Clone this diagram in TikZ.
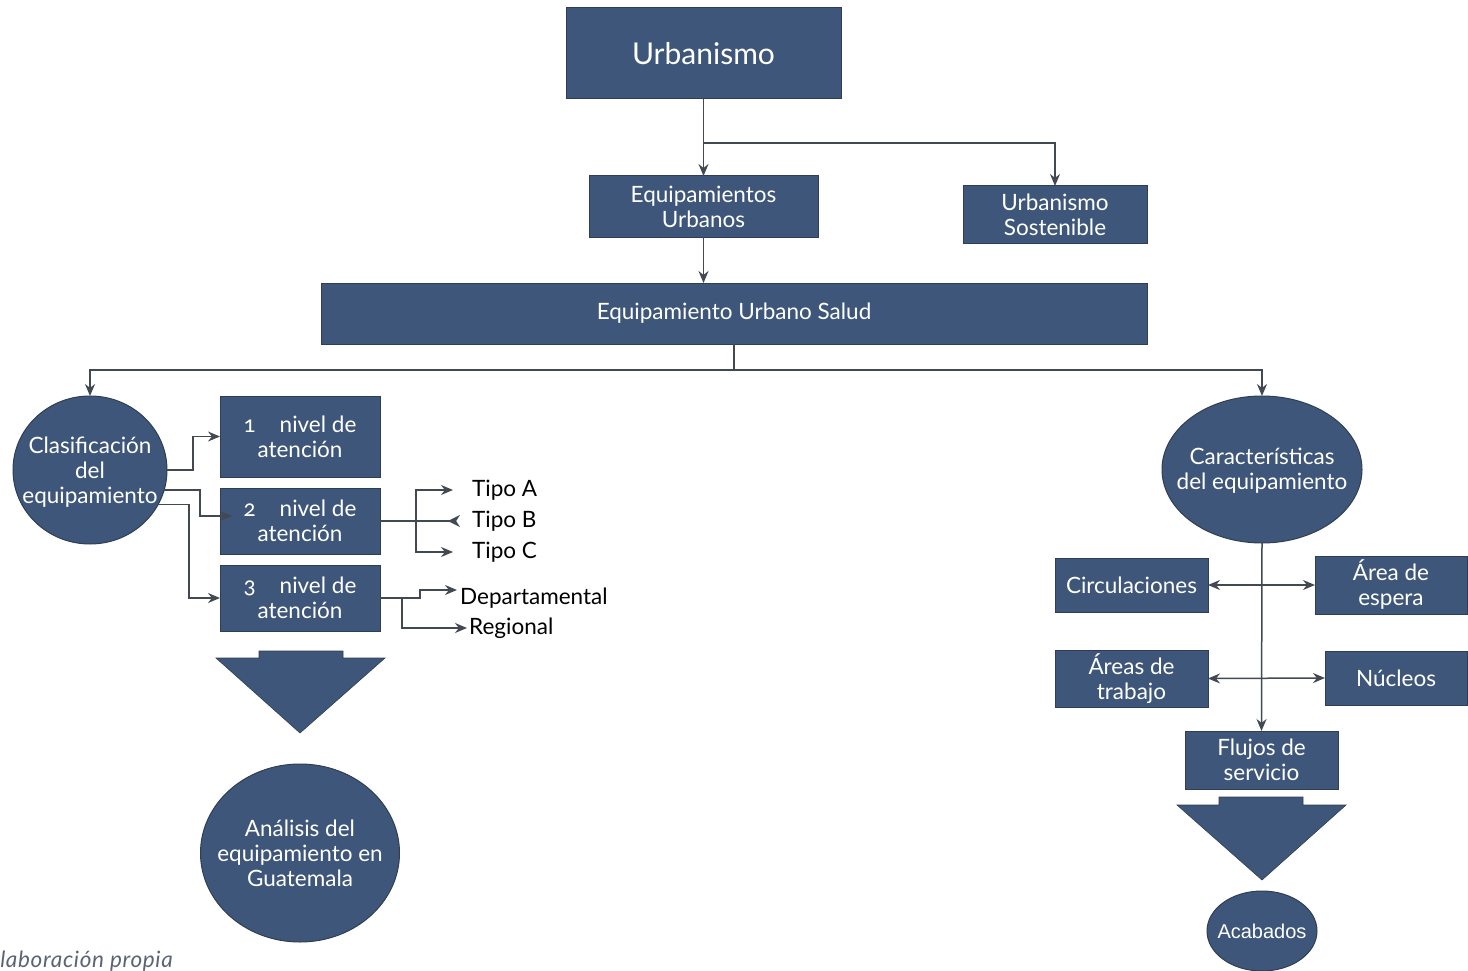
\documentclass[tikz,border=0pt]{standalone}
\usepackage{fontspec}
\setmainfont{Lato}
\newfontfamily\arialfont{Liberation Sans}
\usetikzlibrary{shapes,arrows.meta}
\definecolor{slatefill}{HTML}{3E5679}
\definecolor{slateedge}{HTML}{2F3E54}
\definecolor{wiregray}{HTML}{434952}
\definecolor{notegray}{HTML}{5C6474}

\begin{document}
\begin{tikzpicture}[x=1pt,y=-1pt]
  \tikzset{BoxStyle/.style = {
    shape         = rectangle,
    draw          = slateedge,
    fill          = slatefill,
    line width    = 1pt,
    text          = white,
    align         = center,
    inner sep     = 0pt,
    outer sep     = 0pt,
    font          = \fontsize{22.5}{25}\selectfont
    }
  }
  \tikzset{RoundStyle/.style = {
    BoxStyle,
    shape         = ellipse
    }
  }
  \tikzset{InsideStyle/.style = {
    text          = white,
    align         = center,
    inner sep     = 0pt,
    font          = \fontsize{22.5}{25}\selectfont
    }
  }
  \tikzset{LeafStyle/.style = {
    text          = black,
    anchor        = west,
    inner sep     = 0pt,
    font          = \fontsize{22.5}{25}\selectfont
    }
  }
  \tikzset{WireStyle/.style = {
    draw          = wiregray,
    line width    = 1.5pt,
    -{Stealth[length=12pt,width=10pt]}
    }
  }
  \tikzset{BlockStyle/.style = {
    fill          = slatefill,
    draw          = slateedge,
    line width    = 0.6pt
    }
  }
  \newcommand{\onum}[1]{{\addfontfeature{Numbers=OldStyle}#1}}

  \useasboundingbox (0,0) rectangle (1468,971);
  \clip (0,0) rectangle (1468,971);

	\node[BoxStyle, minimum width=275, minimum height=91, font=\fontsize{30}{34}\selectfont](Urb) at (703.5, 53.5) {Urbanismo};
	\node[BoxStyle, minimum width=229, minimum height=61](EqU) at (703.5, 206.5) {Equipamientos\\Urbanos};
	\node[BoxStyle, minimum width=184, minimum height=57](Sost) at (1055, 214.5) {Urbanismo\\Sostenible};
	\node[BoxStyle, minimum width=826, minimum height=61](Salud) at (734, 313.5) {Equipamiento Urbano Salud};

	\node[RoundStyle, minimum width=154, minimum height=148](Clas) at (90, 470) {};
	\node[InsideStyle](ClasT) at (90, 472) {Clasificación\\del\\equipamiento};
	\node[BoxStyle, minimum width=160, minimum height=81](N1) at (300, 436.5) {\onum{1}\hspace{24pt}nivel de\\atención};
	\node[BoxStyle, minimum width=160, minimum height=66](N2) at (300, 521) {\onum{2}\hspace{24pt}nivel de\\atención};
	\node[BoxStyle, minimum width=160, minimum height=66](N3) at (300, 598) {\onum{3}\hspace{24pt}nivel de\\atención};
	\node[LeafStyle](TipoA) at (472, 490) {Tipo A};
	\node[LeafStyle](TipoB) at (472, 521) {Tipo B};
	\node[LeafStyle](TipoC) at (472, 552) {Tipo C};
	\node[LeafStyle](Dep) at (460, 598) {Departamental};
	\node[LeafStyle](Reg) at (469, 628) {Regional};
	\node[RoundStyle, minimum width=199, minimum height=178](Ana) at (300, 853) {};
	\node[InsideStyle](AnaT) at (Ana) {Análisis del\\equipamiento en\\Guatemala};

	\node[RoundStyle, minimum width=200, minimum height=147](Car) at (1262, 469.5) {};
	\node[InsideStyle](CarT) at (1262, 471) {Características\\del equipamiento};
	\node[BoxStyle, minimum width=153, minimum height=54](Circ) at (1131.5, 585) {Circulaciones};
	\node[BoxStyle, minimum width=152, minimum height=58](Esp) at (1391, 585) {Área de\\espera};
	\node[BoxStyle, minimum width=153, minimum height=57](Trab) at (1131.5, 678.5) {Áreas de\\trabajo};
	\node[BoxStyle, minimum width=142, minimum height=54](Nuc) at (1396, 678) {Núcleos};
	\node[BoxStyle, minimum width=153, minimum height=58](Flu) at (1261.5, 760) {Flujos de\\servicio};
	\node[RoundStyle, minimum width=110, minimum height=80](Acab) at (1262, 931) {};
	\node[InsideStyle, font=\arialfont\fontsize{20}{24}\selectfont](AcabT) at (Acab) {Acabados};

	\node[anchor=base east, inner sep=0pt, text=notegray, font=\itshape\fontsize{22.5}{25}\selectfont\addfontfeature{LetterSpace=3}](Nota) at (173, 967) {Elaboración propia};

	\draw[BlockStyle] (259, 651) -- (343, 651) -- (343, 658) -- (385, 658) -- (300, 733) -- (216, 658) -- (259, 658) -- cycle;
	\draw[BlockStyle] (1219, 797) -- (1303, 797) -- (1303, 805) -- (1346, 805) -- (1262, 880) -- (1177, 805) -- (1219, 805) -- cycle;

	\draw[WireStyle](Urb.south) to (EqU.north);
	\draw[WireStyle](Urb.south) -- ++(0, 44) -| (Sost.north);
	\draw[WireStyle](EqU.south) to (EqU.south |- Salud.north);
	\draw[WireStyle](Salud.south) -- ++(0, 26) -| (Clas.north);
	\draw[WireStyle](Salud.south) -- ++(0, 26) -| (Car.north);

	\draw[WireStyle](Clas.east) -- ++(26, 0) |- (N1.west);
	\draw[WireStyle](Clas.-15) -| ([xshift=-20, yshift=5]N2.west) -- ([xshift=12, yshift=5]N2.west);
	\draw[WireStyle](Clas.-27) -| ([xshift=-31]N3.west) -- (N3.west);

	\draw[WireStyle, -{Stealth[length=12pt,width=12pt,reversed]}](N2.east) to ([xshift=-12]TipoB.west);
	\draw[WireStyle]([xshift=36]N2.east) |- ([xshift=-19]TipoA.west);
	\draw[WireStyle]([xshift=36]N2.east) |- ([xshift=-19]TipoC.west);
	\draw[WireStyle](N3.east) -- ++(40, 0) |- ([xshift=-3, yshift=8]Dep.west);
	\draw[WireStyle]([xshift=22]N3.east) |- ([xshift=-2]Reg.west);

	\draw[WireStyle](Car.south) to (Flu.north);
	\draw[WireStyle, {Stealth[length=12pt,width=10pt]}-{Stealth[length=12pt,width=10pt]}](Circ.east) to (Esp.west);
	\draw[WireStyle, {Stealth[length=12pt,width=10pt]}-{Stealth[length=12pt,width=10pt]}](Trab.east) to (Nuc.west);

  \end{tikzpicture}
\end{document}
